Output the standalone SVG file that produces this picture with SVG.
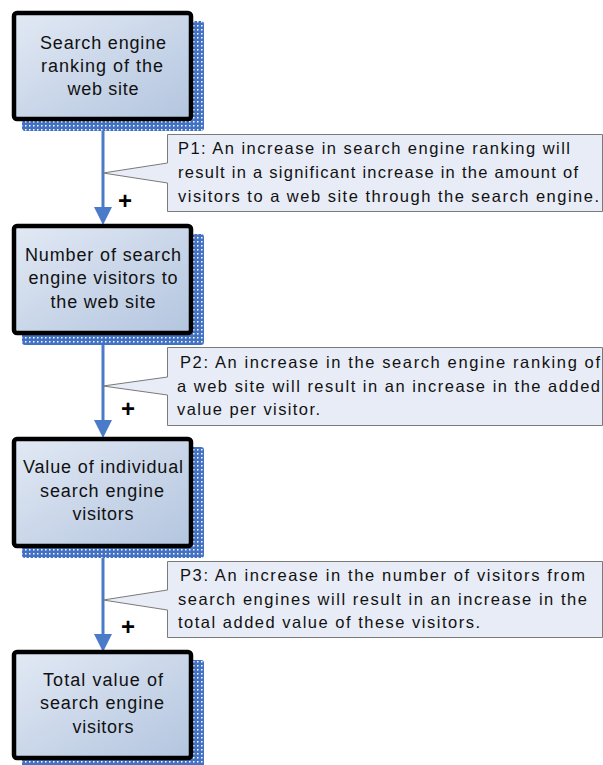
<svg xmlns="http://www.w3.org/2000/svg" width="603" height="765" viewBox="0 0 603 765">
<defs>
<linearGradient id="boxfill" x1="0" y1="0" x2="1" y2="1">
<stop offset="0" stop-color="#e2e9f4"/>
<stop offset="1" stop-color="#b3c5df"/>
</linearGradient>
<pattern id="dots" width="4" height="4" patternUnits="userSpaceOnUse">
<rect width="4" height="4" fill="#4372c2"/>
<rect x="1" y="1" width="1.5" height="1.5" fill="#ffffff"/>
</pattern>
<style>
.shadow{fill:url(#dots);}
.box{fill:url(#boxfill);stroke:#000;stroke-width:4.5;}
.btxt{font-family:"Liberation Sans",Arial,sans-serif;font-size:18px;fill:#111;text-anchor:middle;}
.call{fill:#e8ecf6;stroke:#7a7a7a;stroke-width:1;}
.ctxt{font-family:"Liberation Sans",Arial,sans-serif;font-size:16.5px;fill:#111;}
.conn{stroke:#4a7bc8;stroke-width:3;fill:none;}
.head{fill:#4a7bc8;}
.plus{font-family:"Liberation Sans",Arial,sans-serif;font-size:24px;font-weight:bold;fill:#000;text-anchor:middle;}
</style>
</defs>
<rect width="603" height="765" fill="#ffffff"/>

<g id="connectors">
<line class="conn" x1="103" y1="121" x2="103" y2="209"/>
<polygon class="head" points="94,207 112,207 103,225"/>
<line class="conn" x1="103" y1="335" x2="103" y2="422"/>
<polygon class="head" points="94,420 112,420 103,438"/>
<line class="conn" x1="103" y1="548" x2="103" y2="636"/>
<polygon class="head" points="94,634 112,634 103,652"/>
<text class="plus" x="125" y="209">+</text>
<text class="plus" x="128" y="417">+</text>
<text class="plus" x="128" y="635">+</text>
</g>

<g id="node1">
<rect class="shadow" x="22" y="21" width="182" height="110" rx="3"/>
<rect class="box" x="14" y="13" width="177" height="106" rx="3"/>
<text class="btxt" x="103" y="49" textLength="126" lengthAdjust="spacing">Search engine</text>
<text class="btxt" x="102" y="72" textLength="122" lengthAdjust="spacing">ranking of the</text>
<text class="btxt" x="103" y="95" textLength="71" lengthAdjust="spacing">web site</text>
</g>

<g id="node2">
<rect class="shadow" x="22" y="234" width="182" height="111" rx="3"/>
<rect class="box" x="14" y="226" width="177" height="107" rx="3"/>
<text class="btxt" x="103" y="261" textLength="156" lengthAdjust="spacing">Number of search</text>
<text class="btxt" x="103" y="284" textLength="149" lengthAdjust="spacing">engine visitors to</text>
<text class="btxt" x="103" y="308" textLength="105" lengthAdjust="spacing">the web site</text>
</g>

<g id="node3">
<rect class="shadow" x="22" y="447" width="182" height="111" rx="3"/>
<rect class="box" x="14" y="439" width="177" height="107" rx="3"/>
<text class="btxt" x="103" y="473" textLength="160" lengthAdjust="spacing">Value of individual</text>
<text class="btxt" x="102" y="497" textLength="124" lengthAdjust="spacing">search engine</text>
<text class="btxt" x="103" y="520" textLength="61" lengthAdjust="spacing">visitors</text>
</g>

<g id="node4">
<rect class="shadow" x="22" y="660" width="182" height="110" rx="3"/>
<rect class="box" x="14" y="652" width="177" height="106" rx="3"/>
<text class="btxt" x="103" y="686" textLength="120" lengthAdjust="spacing">Total value of</text>
<text class="btxt" x="102" y="709" textLength="124" lengthAdjust="spacing">search engine</text>
<text class="btxt" x="103" y="733" textLength="61" lengthAdjust="spacing">visitors</text>
</g>

<g id="callout1">
<path class="call" d="M167.5,134.5 H602.5 V211.5 H167.5 V183 L103,173 L167.5,163 Z"/>
<text class="ctxt" x="178" y="154" textLength="392" lengthAdjust="spacing">P1: An increase in search engine ranking will</text>
<text class="ctxt" x="178" y="178" textLength="400" lengthAdjust="spacing">result in a significant increase in the amount of</text>
<text class="ctxt" x="178" y="202" textLength="421" lengthAdjust="spacing">visitors to a web site through the search engine.</text>
</g>

<g id="callout2">
<path class="call" d="M167.5,347.5 H602.5 V425.5 H167.5 V395 L103,386 L167.5,377 Z"/>
<text class="ctxt" x="180" y="368" textLength="420" lengthAdjust="spacing">P2: An increase in the search engine ranking of</text>
<text class="ctxt" x="177" y="392" textLength="423" lengthAdjust="spacing">a web site will result in an increase in the added</text>
<text class="ctxt" x="177" y="415" textLength="143" lengthAdjust="spacing">value per visitor.</text>
</g>

<g id="callout3">
<path class="call" d="M167.5,561.5 H602.5 V637.5 H167.5 V610 L103,600 L167.5,590 Z"/>
<text class="ctxt" x="180" y="581" textLength="405" lengthAdjust="spacing">P3: An increase in the number of visitors from</text>
<text class="ctxt" x="178" y="605" textLength="409" lengthAdjust="spacing">search engines will result in an increase in the</text>
<text class="ctxt" x="178" y="628" textLength="302" lengthAdjust="spacing">total added value of these visitors.</text>
</g>
</svg>
